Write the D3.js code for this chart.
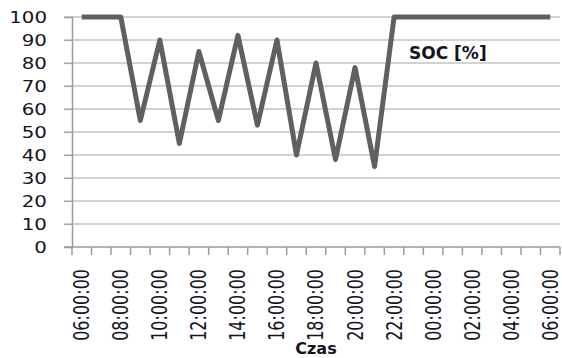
<!DOCTYPE html>
<html>
<head>
<meta charset="utf-8">
<script src="https://cdn.jsdelivr.net/npm/d3@7/dist/d3.min.js"></script>
<style>
  html, body { margin: 0; padding: 0; background: #fff; }
  svg { display: block; }
  text { font-family: "DejaVu Sans", Verdana, sans-serif; fill: #141420; }
</style>
</head>
<body>
<svg id="chart" width="562" height="358"></svg>
<script>
// Hourly categories over one full day
const hours = ["06:00:00","07:00:00","08:00:00","09:00:00","10:00:00","11:00:00","12:00:00",
  "13:00:00","14:00:00","15:00:00","16:00:00","17:00:00","18:00:00","19:00:00","20:00:00",
  "21:00:00","22:00:00","23:00:00","00:00:00","01:00:00","02:00:00","03:00:00","04:00:00",
  "05:00:00","06:00:00 "];
// State of charge [%]
const soc = [100,100,100,55,90,45,85,55,92,53,90,40,80,38,78,35,100,100,100,100,100,100,100,100,100];
const yTicks = [0,10,20,30,40,50,60,70,80,90,100];
const seriesLabel = "SOC [%]";
const axisTitle = "Czas";

const svg = d3.select("#chart");
const plotLeft = 72, plotRight = 560, plotTop = 17, plotBottom = 247;

const x = d3.scaleBand().domain(hours).range([plotLeft, plotRight]).padding(0);
const y = d3.scaleLinear().domain([0, 100]).range([plotBottom, plotTop]);
const cx = d => x(d) + x.bandwidth() / 2;

// Horizontal gridlines
svg.append("g").selectAll("line").data(yTicks.filter(v => v > 0)).join("line")
  .attr("x1", plotLeft - 8).attr("x2", plotRight)
  .attr("y1", d => y(d)).attr("y2", d => y(d))
  .attr("stroke", "#a8a8a8").attr("stroke-width", 1.2);

// Y axis with outward ticks
const yAxis = svg.append("g").attr("transform", `translate(${plotLeft},0)`)
  .call(d3.axisLeft(y).tickValues(yTicks).tickSize(8).tickFormat(() => ""));
yAxis.select(".domain").attr("stroke", "#9a9a9a").attr("stroke-width", 1.5);
yAxis.selectAll(".tick line").attr("stroke", "#a8a8a8").attr("stroke-width", 1.2);

// Y labels
svg.append("g").selectAll("text").data(yTicks).join("text")
  .attr("transform", d => `translate(47,${y(d)}) scale(1.24,1)`)
  .attr("text-anchor", "end").attr("dy", "0.36em")
  .style("font-size", "16px")
  .text(d => d);

// X axis line and tick marks at category boundaries
const bounds = hours.map(h => x(h)).concat([plotRight]);
svg.append("line").attr("x1", plotLeft - 8).attr("x2", plotRight)
  .attr("y1", plotBottom).attr("y2", plotBottom)
  .attr("stroke", "#9a9a9a").attr("stroke-width", 1.5);
svg.append("g").selectAll("line").data(bounds).join("line")
  .attr("x1", d => d).attr("x2", d => d)
  .attr("y1", plotBottom).attr("y2", plotBottom + 8)
  .attr("stroke", "#9a9a9a").attr("stroke-width", 1.5);

// X labels (every second hour), rotated
svg.append("g").selectAll("text").data(hours.filter((h, i) => i % 2 === 0)).join("text")
  .attr("transform", d => `translate(${cx(d)},269) scale(1.3,1) rotate(-90)`)
  .attr("text-anchor", "end").attr("dy", "0.36em")
  .style("font-size", "16px")
  .text(d => d.trim());

// SOC line
const line = d3.line().x((d, i) => cx(hours[i])).y(d => y(d));
svg.append("path").datum(soc)
  .attr("d", line)
  .attr("fill", "none")
  .attr("stroke", "#606060")
  .attr("stroke-width", 5)
  .attr("stroke-linejoin", "round");

// Series label
svg.append("text").attr("x", 409).attr("y", 59)
  .style("font-size", "17px").style("font-weight", "bold")
  .text(seriesLabel);

// Axis title
svg.append("text").attr("x", (plotLeft + plotRight) / 2).attr("y", 354)
  .attr("text-anchor", "middle")
  .style("font-size", "16px").style("font-weight", "bold")
  .text(axisTitle);
</script>
</body>
</html>
